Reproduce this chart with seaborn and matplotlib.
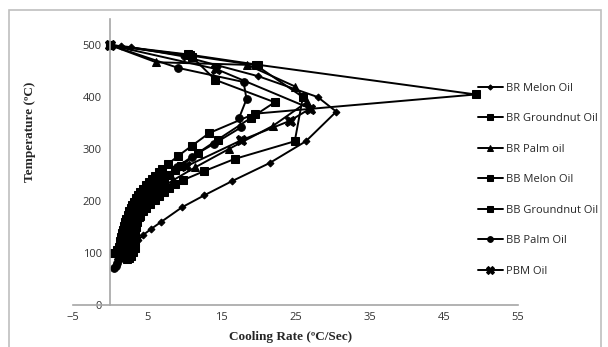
import numpy as np
import pandas as pd
import matplotlib
matplotlib.use('Agg')
import matplotlib.pyplot as plt
import seaborn as sns
from matplotlib.patches import Rectangle

# cooling rate (C/sec) and temperature (C) for each quenchant
br_melon_rate = [0, 1.5, 2.8, 10, 20, 28, 30.5, 26.4, 21.5, 16.4, 12.7, 9.7, 6.9, 5.5, 4.5, 3.8, 3.2, 2.7, 2.3, 2.0]
br_melon_temp = [500, 498, 496, 478, 440, 400, 372, 315, 273, 238, 211, 188, 160, 146, 135, 125, 115, 105, 95, 88]

br_gnut_rate = [0, 10.5, 20, 49.3, 19.5, 13.4, 11, 9.2, 7.8, 7.0, 6.6, 6.1, 5.6, 5.2, 4.8, 4.4, 4.1, 3.8, 3.5,
                3.2, 3.0, 2.8, 2.6, 2.4, 2.2, 2.0, 1.9, 1.75, 1.6, 1.5, 1.4, 1.3, 1.2, 1.0, 0.6]
br_gnut_temp = [500, 482, 462, 405, 368, 331, 306, 287, 271, 262, 256, 249, 243, 236, 230, 224, 218, 211, 205,
                198, 192, 186, 180, 173, 166, 159, 152, 145, 138, 131, 124, 118, 112, 106, 100]

br_palm_rate = [0, 6.2, 18.5, 25, 26.5, 22, 16, 11.5, 8.5, 7.4, 6.5, 5.7, 5.0, 4.5, 4.0, 3.6, 3.2, 2.9, 2.6,
                2.3, 2.1, 1.9, 1.7, 1.55, 1.4, 1.2]
br_palm_temp = [500, 467, 462, 420, 390, 345, 300, 265, 240, 230, 220, 210, 200, 191, 182, 173, 165, 157, 150,
                142, 135, 127, 120, 112, 105, 95]

bb_melon_rate = [0, 10.8, 19.7, 26, 24.9, 16.8, 12.6, 9.8, 8.8, 8.0, 7.3, 6.6, 6.0, 5.4, 4.9, 4.5, 4.1, 3.7,
                 3.4, 3.1, 2.8, 2.6, 2.4, 2.2, 2.0, 1.9, 1.6]
bb_melon_temp = [500, 480, 461, 400, 315, 281, 257, 240, 232, 225, 217, 210, 202, 195, 187, 180, 172, 165,
                 157, 150, 142, 135, 127, 120, 114, 108, 100]

bb_gnut_rate = [0, 11, 14.2, 22.2, 19, 14.5, 11.8, 9.6, 8.8, 8.0, 7.3, 6.6, 6.0, 5.5, 5.1, 4.7, 4.4, 4.1, 3.9,
                3.7, 3.5, 3.4, 3.4, 3.4, 3.3, 3.1, 2.8, 2.5, 2.3]
bb_gnut_temp = [500, 478, 433, 390, 360, 318, 292, 268, 259, 250, 241, 232, 223, 215, 206, 198, 189, 180, 170,
                160, 150, 140, 131, 122, 110, 102, 95, 91, 88]

bb_palm_rate = [0, 9.2, 18, 18.4, 17.4, 17.7, 14, 11, 9, 7.5, 6.8, 6.2, 5.7, 5.2, 4.7, 4.3, 3.9, 3.6, 3.3,
                3.0, 2.75, 2.5, 2.3, 2.1, 1.9, 1.7, 1.5, 1.3, 1.15, 1.0, 0.8, 0.6]
bb_palm_temp = [500, 456, 429, 396, 360, 342, 310, 285, 265, 248, 240, 232, 224, 215, 207, 198, 189, 180, 172,
                163, 154, 145, 137, 128, 120, 112, 104, 95, 88, 80, 75, 72]

pbm_rate = [0, 14.3, 27, 24.2, 17.7, 10.3, 7.0, 6.0, 5.2, 4.7, 4.2, 3.8, 3.4, 3.1, 2.8, 2.5, 2.3, 2.1, 1.9,
            1.7, 1.5, 1.35, 1.2]
pbm_temp = [500, 454, 378, 354, 317, 267, 237, 226, 215, 205, 195, 186, 178, 169, 160, 151, 142, 133, 125,
            116, 108, 101, 95]

labels = ['BR Melon Oil', 'BR Groundnut Oil', 'BR Palm oil', 'BB Melon Oil',
          'BB Groundnut Oil', 'BB Palm Oil', 'PBM Oil']
rates = [br_melon_rate, br_gnut_rate, br_palm_rate, bb_melon_rate, bb_gnut_rate, bb_palm_rate, pbm_rate]
temps = [br_melon_temp, br_gnut_temp, br_palm_temp, bb_melon_temp, bb_gnut_temp, bb_palm_temp, pbm_temp]

frames = []
for lab, r, t in zip(labels, rates, temps):
    frames.append(pd.DataFrame({'rate': r, 'temp': t, 'oil': lab}))
df = pd.concat(frames, ignore_index=True)

sns.set_style('white')
plt.rcParams['font.family'] = ['Open Sans', 'DejaVu Sans']

fig = plt.figure(figsize=(6.08, 3.47), dpi=100)
ax = fig.add_axes([0.12, 0.121, 0.732, 0.824])

markers = {'BR Melon Oil': 'D', 'BR Groundnut Oil': 's', 'BR Palm oil': '^', 'BB Melon Oil': 's',
           'BB Groundnut Oil': 's', 'BB Palm Oil': 'o', 'PBM Oil': 'X'}
sizes = {'BR Melon Oil': 3.5, 'BR Groundnut Oil': 5.5, 'BR Palm oil': 5.5, 'BB Melon Oil': 5.5,
         'BB Groundnut Oil': 5.5, 'BB Palm Oil': 5.5, 'PBM Oil': 7.5}

for lab in labels:
    sub = df[df.oil == lab]
    sns.lineplot(data=sub, x='rate', y='temp', sort=False, estimator=None, ax=ax,
                 color='black', linewidth=1.4, marker=markers[lab], markersize=sizes[lab],
                 markeredgecolor='black', markerfacecolor='black', label=lab)

ax.set_xlim(-5, 55)
ax.set_ylim(0, 550)
ax.set_xticks(np.arange(-5, 56, 10))
ax.set_yticks(np.arange(0, 501, 100))
ax.spines['left'].set_position(('data', 0))
for s in ['top', 'right']:
    ax.spines[s].set_visible(False)
for s in ['left', 'bottom']:
    ax.spines[s].set_color('#a6a6a6')
    ax.spines[s].set_linewidth(1.2)
ax.tick_params(axis='both', labelsize=8, colors='#333333', length=0, pad=5)
ax.tick_params(axis='y', length=4, color='#a6a6a6', pad=2)
ax.set_xlabel('')
ax.set_ylabel('')

fig.text(0.05, 0.62, 'Temperature (ºC)', rotation=90, ha='center', va='center',
         family='Liberation Serif', fontweight='bold', fontsize=9.5)
fig.text(0.478, 0.045, 'Cooling Rate (ºC/Sec)', ha='center', va='top',
         family='Liberation Serif', fontweight='bold', fontsize=9.5)

handles, labs = ax.get_legend_handles_labels()
ax.get_legend().remove()
fig.legend(handles, labs, loc='upper left', bbox_to_anchor=(0.77, 0.79), frameon=False, numpoints=1,
           markerscale=0.75, fontsize=8, labelspacing=1.75, handlelength=2.2, handletextpad=0.3)

fig.patches.append(Rectangle((0.015, -0.05), 0.973, 1.021, transform=fig.transFigure,
                             fill=False, edgecolor='#bfbfbf', linewidth=1.2))

fig.savefig('out.png', dpi=100)
